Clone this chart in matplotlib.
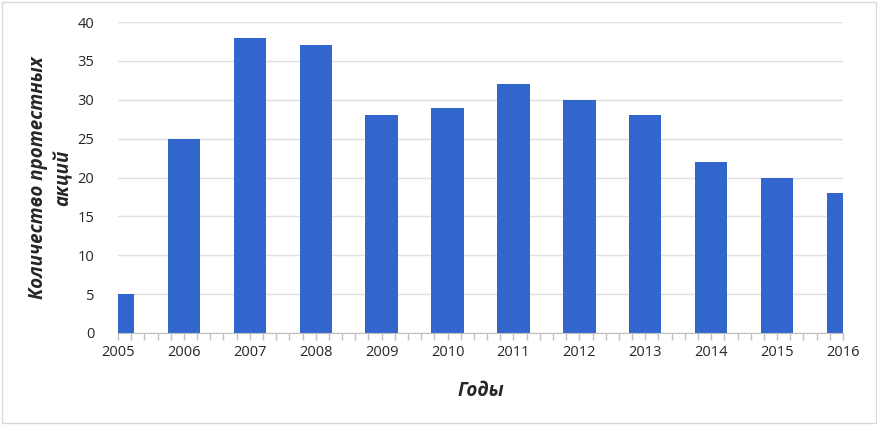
import matplotlib
matplotlib.use("Agg")
import matplotlib.pyplot as plt
import numpy as np
from matplotlib.patches import Rectangle
from matplotlib.ticker import MultipleLocator

years = [2005, 2006, 2007, 2008, 2009, 2010, 2011, 2012, 2013, 2014, 2015, 2016]
protests = [5, 25, 38, 37, 28, 29, 32, 30, 28, 22, 20, 18]
y_ticks = [0, 5, 10, 15, 20, 25, 30, 35, 40]

plt.rcParams['font.family'] = ['Open Sans', 'DejaVu Sans']

fig = plt.figure(figsize=(8.78, 4.25), dpi=100)
ax = fig.add_axes([118 / 878, 1 - 333 / 425, (843 - 118) / 878, (333 - 22) / 425])

ax.bar(years, protests, width=0.49, color='#3366cc', zorder=3)

ax.set_xlim(years[0], years[-1])
ax.set_ylim(0, 40)
ax.set_xticks(years)
ax.set_xticklabels([str(y) for y in years])
ax.xaxis.set_minor_locator(MultipleLocator(0.2))
ax.set_yticks(y_ticks)

ax.grid(axis='y', color='#e0e0e0', linewidth=1, zorder=0)
for s in ['top', 'right', 'left']:
    ax.spines[s].set_visible(False)
ax.spines['bottom'].set_color('#bfbfbf')
ax.spines['bottom'].set_zorder(4)

ax.tick_params(axis='y', length=0, pad=17, labelsize=10.5, labelcolor='#262626')
ax.tick_params(axis='x', which='both', direction='out', length=5, width=1,
               color='#bfbfbf', labelsize=10.5, labelcolor='#262626', pad=4)

ax.set_xlabel('Годы', fontsize=13.5, fontweight='bold', fontstyle='italic',
              color='#262626', labelpad=15)
fig.text(51 / 878, 1 - 178 / 425, 'Количество протестных\nакций', rotation=90,
         ha='center', va='center', fontsize=13.5, fontweight='bold',
         fontstyle='italic', color='#262626', linespacing=1.35)

fig.patches.append(Rectangle((2 / 878, 2 / 425), 874 / 878, 421 / 425,
                             transform=fig.transFigure, fill=False,
                             edgecolor='#d9d9d9', linewidth=1))

fig.savefig('out.png', dpi=100)
